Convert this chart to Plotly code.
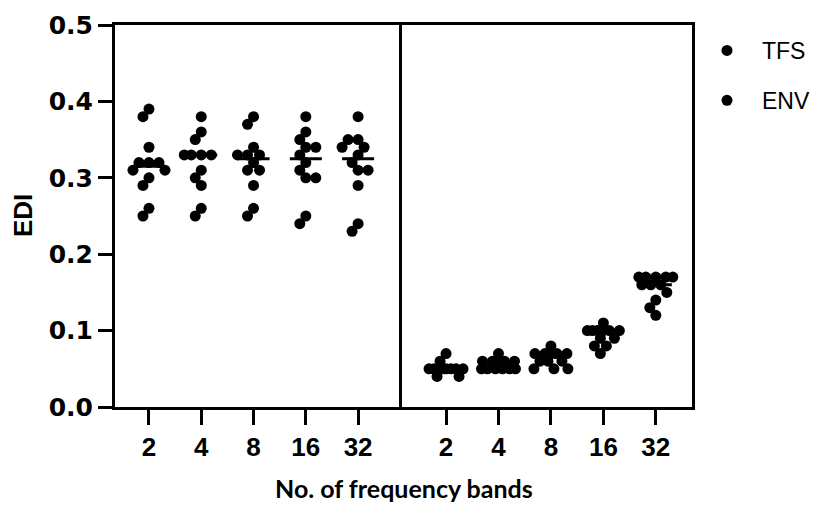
import numpy as np
import plotly.graph_objects as go

# ---- data ----
bands = ["2", "4", "8", "16", "32"]
tfs_2 = [0.39, 0.38, 0.34, 0.32, 0.32, 0.32, 0.31, 0.31, 0.30, 0.29, 0.26, 0.25]
tfs_4 = [0.38, 0.36, 0.35, 0.33, 0.33, 0.33, 0.33, 0.31, 0.30, 0.29, 0.26, 0.25]
tfs_8 = [0.38, 0.37, 0.34, 0.33, 0.33, 0.33, 0.32, 0.31, 0.31, 0.29, 0.26, 0.25]
tfs_16 = [0.38, 0.36, 0.35, 0.34, 0.34, 0.33, 0.32, 0.31, 0.30, 0.30, 0.25, 0.24]
tfs_32 = [0.38, 0.35, 0.35, 0.34, 0.34, 0.33, 0.32, 0.31, 0.31, 0.29, 0.24, 0.23]
env_2 = [0.07, 0.06, 0.05, 0.05, 0.05, 0.05, 0.05, 0.05, 0.05, 0.05, 0.04, 0.04]
env_4 = [0.07, 0.06, 0.06, 0.06, 0.06, 0.06, 0.05, 0.05, 0.05, 0.05, 0.05, 0.05]
env_8 = [0.08, 0.07, 0.07, 0.07, 0.07, 0.07, 0.06, 0.06, 0.06, 0.05, 0.05, 0.05]
env_16 = [0.11, 0.10, 0.10, 0.10, 0.10, 0.10, 0.10, 0.09, 0.09, 0.08, 0.08, 0.07]
env_32 = [0.17, 0.17, 0.17, 0.17, 0.17, 0.16, 0.16, 0.16, 0.15, 0.14, 0.13, 0.12]
y_ticks = [0.0, 0.1, 0.2, 0.3, 0.4, 0.5]

tfs_groups = [tfs_2, tfs_4, tfs_8, tfs_16, tfs_32]
env_groups = [env_2, env_4, env_8, env_16, env_32]

# ---- layout geometry ----
W, H = 832, 505
ML, MR, MT, MB = 115, 140, 25, 98
plot_w = W - ML - MR
plot_h = H - MT - MB
split = (402 - ML) / plot_w
x1_range = [-0.65, 4.84]
x2_range = [-0.84, 4.69]
y_range = [0, 0.5]
ppu_y = plot_h / (y_range[1] - y_range[0])
ppu_x1 = split * plot_w / (x1_range[1] - x1_range[0])
ppu_x2 = (1 - split) * plot_w / (x2_range[1] - x2_range[0])
MS = 11


def swarm(vals, ppu_x, ppu_y, d, maxw=17.0, mind=0.85):
    vals = np.asarray(vals, dtype=float)
    order = np.argsort(-vals, kind="stable")
    cands = sorted(np.arange(-maxw, maxw + 0.01, 1.0), key=lambda c: (abs(c), c))
    placed = []
    offs = np.zeros(len(vals))
    for i in order:
        yp = vals[i] * ppu_y
        best, best_md = 0.0, -1.0
        for xp in cands:
            md = min([np.hypot(xp - a, yp - b) for a, b in placed], default=1e9)
            if md >= mind * d:
                best = xp
                break
            if md > best_md + 1e-9:
                best_md, best = md, xp
        placed.append((best, yp))
        offs[i] = best / ppu_x
    return offs


def panel(groups, ppu_x):
    xs, ys, mx, my = [], [], [], []
    half = 16 / ppu_x
    for gi, g in enumerate(groups):
        o = swarm(g, ppu_x, ppu_y, MS)
        xs += list(gi + o)
        ys += list(g)
        m = float(np.median(g))
        mx += [gi - half, gi + half, None]
        my += [m, m, None]
    return xs, ys, mx, my


fig = go.Figure()
for name, groups, ppu, xa, ya, grp in [
    ("TFS", tfs_groups, ppu_x1, "x", "y", "g1"),
    ("ENV", env_groups, ppu_x2, "x2", "y2", "g2"),
]:
    xs, ys, mx, my = panel(groups, ppu)
    fig.add_trace(go.Scatter(
        x=xs, y=ys, mode="markers", name=name, xaxis=xa, yaxis=ya,
        legendgroup=grp,
        marker=dict(color="black", size=MS, line=dict(width=0)),
    ))
    fig.add_trace(go.Scatter(
        x=mx, y=my, mode="lines", xaxis=xa, yaxis=ya, showlegend=False,
        line=dict(color="black", width=3), hoverinfo="skip",
    ))

line_common = dict(showline=True, linecolor="black", linewidth=3,
                   showgrid=False, zeroline=False)
xtick_font = dict(family="Liberation Sans, Arial", size=26, color="black", weight="bold")
ytick_font = dict(family="DejaVu Sans, Liberation Sans", size=25, color="black", weight="bold")

fig.update_layout(
    width=W, height=H,
    margin=dict(l=ML, r=MR, t=MT, b=MB),
    paper_bgcolor="white", plot_bgcolor="white",
    showlegend=True,
    legend=dict(x=1.0, xanchor="left", y=1 - 4 / plot_h, yanchor="top",
                font=dict(family="Liberation Sans, Arial", size=23, color="black"),
                tracegroupgap=17, itemwidth=60, bgcolor="rgba(0,0,0,0)"),
    xaxis=dict(domain=[0, split], range=x1_range, anchor="y", mirror=True,
               tickmode="array", tickvals=list(range(len(bands))), ticktext=bands,
               ticks="outside", ticklen=15, tickwidth=3, tickcolor="black",
               tickfont=xtick_font, **line_common),
    xaxis2=dict(domain=[split, 1], range=x2_range, anchor="y2", mirror=True,
                tickmode="array", tickvals=list(range(len(bands))), ticktext=bands,
                ticks="outside", ticklen=15, tickwidth=3, tickcolor="black",
                tickfont=xtick_font, **line_common),
    yaxis=dict(domain=[0, 1], range=y_range, anchor="x", mirror=False,
               tickmode="array", tickvals=y_ticks,
               ticktext=[f"{v:.1f}" for v in y_ticks],
               ticks="outside", ticklen=14, tickwidth=3, tickcolor="black",
               tickfont=ytick_font, **line_common),
    yaxis2=dict(domain=[0, 1], range=y_range, anchor="x2", matches="y", mirror=True,
                showticklabels=False, ticks="", **line_common),
    annotations=[
        dict(text="EDI", xref="paper", yref="paper", x=(23 - ML) / plot_w, y=0.5,
             xanchor="center", yanchor="middle", textangle=-90, showarrow=False,
             font=dict(family="Liberation Sans, Arial", size=26, color="black", weight="bold")),
        dict(text="No. of frequency bands", xref="paper", yref="paper", x=0.5,
             y=-(488 - (MT + plot_h)) / plot_h,
             xanchor="center", yanchor="middle", showarrow=False,
             font=dict(family="Lato, Open Sans", size=25, color="black", weight="bold")),
    ],
)

fig.write_html("out.html")
